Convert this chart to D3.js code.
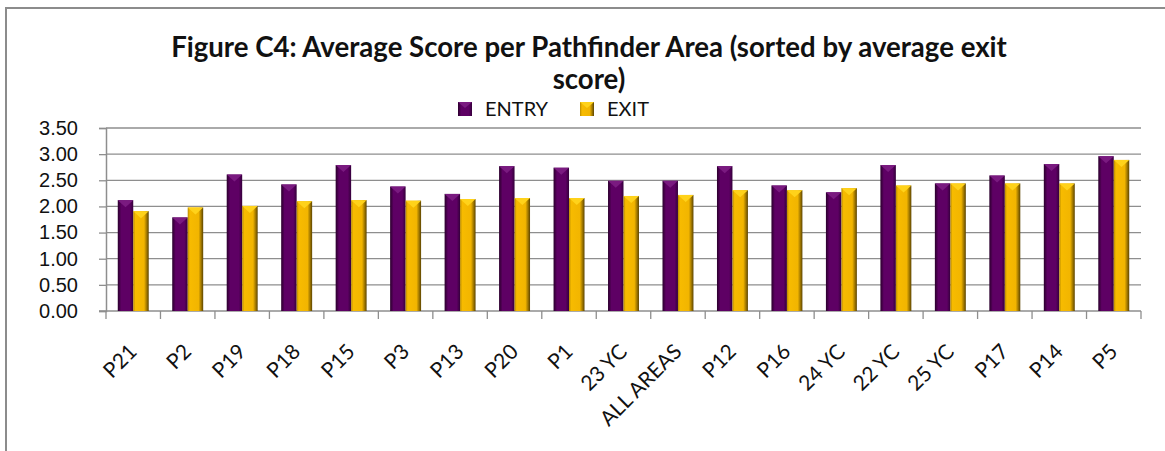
<!DOCTYPE html>
<html>
<head>
<meta charset="utf-8">
<script src="https://cdn.jsdelivr.net/npm/d3@7"></script>
<style>
  html, body { margin: 0; padding: 0; background: #fff; }
  svg { display: block; font-family: Lato, "Open Sans", sans-serif; }
</style>
</head>
<body>
<div class="svg-wrapper"></div>
<script>
// chart data
var categories = ["P21", "P2", "P19", "P18", "P15", "P3", "P13", "P20", "P1", "23 YC",
                  "ALL AREAS", "P12", "P16", "24 YC", "22 YC", "25 YC", "P17", "P14", "P5"];
var entry = [2.12, 1.79, 2.61, 2.42, 2.79, 2.38, 2.24, 2.77, 2.74, 2.49,
             2.49, 2.77, 2.40, 2.27, 2.79, 2.44, 2.59, 2.81, 2.96];
var exit  = [1.91, 1.98, 2.01, 2.10, 2.12, 2.11, 2.14, 2.16, 2.16, 2.20,
             2.22, 2.31, 2.31, 2.35, 2.40, 2.44, 2.44, 2.44, 2.89];
var series = ["ENTRY", "EXIT"];
var yTicks = [0, 0.5, 1, 1.5, 2, 2.5, 3, 3.5];
var titleLines = ["Figure C4: Average Score per Pathfinder Area (sorted by average exit", "score)"];

var W = 1165, H = 451;
var margin = {top: 128, right: 24, bottom: 140, left: 106},
    width  = W - margin.left - margin.right,
    height = H - margin.top - margin.bottom;

var svg = d3.select(".svg-wrapper").append("svg")
  .attr("width", W)
  .attr("height", H);

// gradients for the bevelled bars
var defs = svg.append("defs");
function grad(id, stops) {
  var g = defs.append("linearGradient").attr("id", id)
    .attr("x1", "0").attr("x2", "1").attr("y1", "0").attr("y2", "0");
  stops.forEach(function(s) {
    g.append("stop").attr("offset", s[0]).attr("stop-color", s[1]);
  });
}
grad("g-entry", [["0%", "#2a002c"], ["14%", "#4a004e"], ["22%", "#5e0064"], ["78%", "#5e0064"], ["100%", "#34003a"]]);
grad("g-exit",  [["0%", "#b88a00"], ["14%", "#f7bb00"], ["70%", "#f2b500"], ["86%", "#a37a00"], ["100%", "#5c4400"]]);
var capColor = {ENTRY: "#7a1a80", EXIT: "#ffd21a"};

// outer chart border (only top and left show in the picture)
svg.append("path")
  .attr("d", "M6,460 L6,8 L1170,8")
  .attr("fill", "none")
  .attr("stroke", "#8c8c8c")
  .attr("stroke-width", 2);

var x = d3.scaleBand().domain(categories).range([0, width]);
var xs = d3.scaleBand().domain(series).range([0, x.bandwidth()]).paddingInner(0).paddingOuter(0.76);
var y = d3.scaleLinear().domain([0, 3.5]).range([height, 0]);

var g = svg.append("g").attr("transform", "translate(" + margin.left + "," + margin.top + ")");

// gridlines
g.append("g").selectAll("line")
  .data(yTicks.slice(1))
  .enter().append("line")
  .attr("x1", 0).attr("x2", width)
  .attr("y1", function(d) { return y(d); })
  .attr("y2", function(d) { return y(d); })
  .attr("stroke", "#8e8e8e")
  .attr("stroke-width", 1.3);

// y axis
var yAxis = d3.axisLeft(y).tickValues(yTicks).tickFormat(d3.format(".2f")).tickSize(7).tickPadding(20);
var ya = g.append("g").call(yAxis);
ya.select(".domain").attr("stroke", "#8e8e8e").attr("stroke-width", 1.5);
ya.selectAll(".tick line").attr("stroke", "#8e8e8e").attr("stroke-width", 1.3);
ya.selectAll(".tick text").attr("fill", "#111").style("font-size", "20px").attr("x", -28);

// x axis baseline and boundary ticks
g.append("line")
  .attr("x1", -7).attr("x2", width)
  .attr("y1", height).attr("y2", height)
  .attr("stroke", "#8e8e8e").attr("stroke-width", 1.5);
var bounds = categories.map(function(c) { return x(c); }).concat([width]);
g.append("g").selectAll("line")
  .data(bounds)
  .enter().append("line")
  .attr("x1", function(d) { return d; }).attr("x2", function(d) { return d; })
  .attr("y1", height).attr("y2", height + 8)
  .attr("stroke", "#8e8e8e").attr("stroke-width", 1.3);

// rotated category labels
g.append("g").selectAll("text")
  .data(categories)
  .enter().append("text")
  .attr("transform", function(d) {
    return "translate(" + (x(d) + x.bandwidth() / 2 + 5) + "," + (height + 42) + ") rotate(-45)";
  })
  .attr("text-anchor", "end")
  .attr("fill", "#111")
  .style("font-size", "21px")
  .text(function(d) { return d; });

// bars
var rows = categories.map(function(c, i) {
  return {cat: c, vals: [{s: "ENTRY", v: entry[i]}, {s: "EXIT", v: exit[i]}]};
});
var groups = g.append("g").selectAll("g")
  .data(rows)
  .enter().append("g")
  .attr("transform", function(d) { return "translate(" + x(d.cat) + ",0)"; });

groups.selectAll("rect")
  .data(function(d) { return d.vals; })
  .enter().append("rect")
  .attr("x", function(d) { return xs(d.s); })
  .attr("y", function(d) { return y(d.v); })
  .attr("width", xs.bandwidth())
  .attr("height", function(d) { return height - y(d.v); })
  .attr("fill", function(d) { return d.s === "ENTRY" ? "url(#g-entry)" : "url(#g-exit)"; });

// bevel caps on top of bars
groups.selectAll("path.cap")
  .data(function(d) { return d.vals; })
  .enter().append("path")
  .attr("class", "cap")
  .attr("d", function(d) {
    var x0 = xs(d.s), w = xs.bandwidth(), y0 = y(d.v);
    return "M" + x0 + "," + y0 + "L" + (x0 + w) + "," + y0 + "L" + (x0 + w / 2) + "," + (y0 + 7) + "Z";
  })
  .attr("fill", function(d) { return capColor[d.s]; });

// title
var title = svg.append("text")
  .attr("text-anchor", "middle")
  .attr("fill", "#111")
  .style("font-weight", "bold")
  .style("font-size", "27.6px");
title.selectAll("tspan")
  .data(titleLines)
  .enter().append("tspan")
  .attr("x", 589)
  .attr("y", function(d, i) { return 57 + i * 32; })
  .text(function(d) { return d; });

// legend
var legendX = {ENTRY: 458, EXIT: 580};
var leg = svg.append("g").selectAll("g")
  .data(series)
  .enter().append("g")
  .attr("transform", function(d) { return "translate(" + legendX[d] + ",102)"; });
leg.append("rect")
  .attr("width", 14).attr("height", 14)
  .attr("fill", function(d) { return d === "ENTRY" ? "url(#g-entry)" : "url(#g-exit)"; });
leg.append("path")
  .attr("d", "M0,0L14,0L7,6Z")
  .attr("fill", function(d) { return capColor[d]; });
leg.append("text")
  .attr("x", 27).attr("y", 14)
  .attr("fill", "#111")
  .style("font-size", "20px")
  .text(function(d) { return d; });
</script>
</body>
</html>
